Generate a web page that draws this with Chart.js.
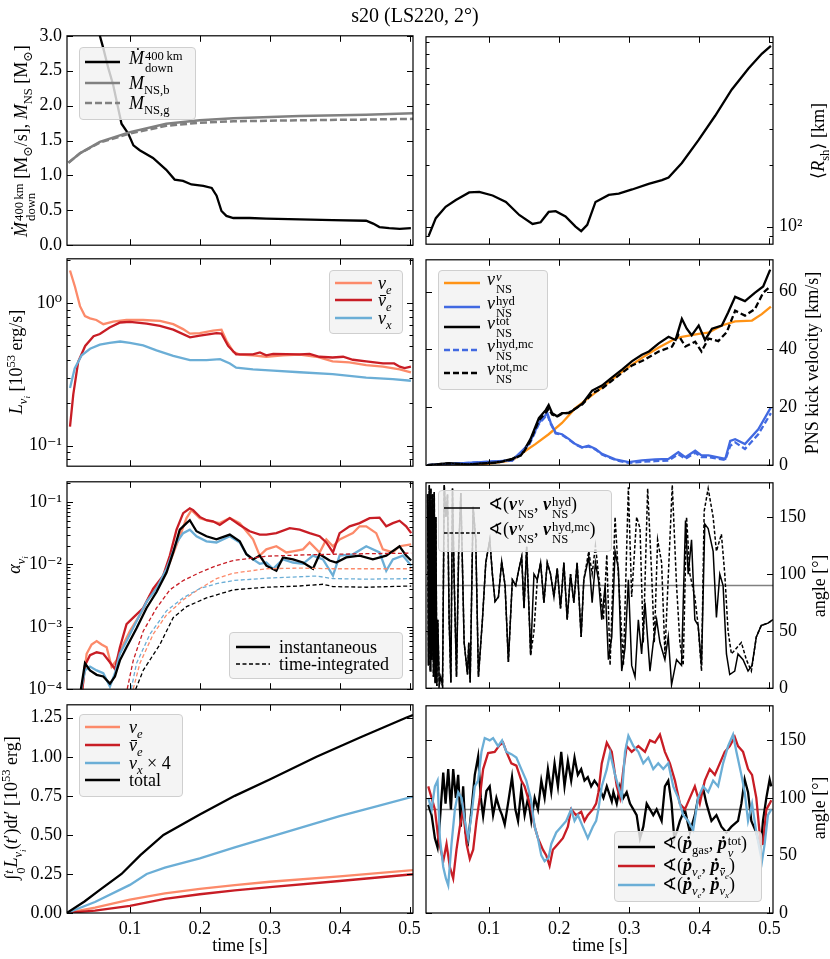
<!DOCTYPE html>
<html>
<head>
<meta charset="utf-8">
<title>s20 (LS220, 2°)</title>
<script src="https://cdn.jsdelivr.net/npm/chart.js@4.4.1/dist/chart.umd.min.js"></script>
<style>
  body { margin: 0; width: 830px; height: 959px; position: relative; overflow: hidden; background: #fff;
         font-family: "Liberation Serif", "DejaVu Serif", serif; color: #000; }
  canvas { position: absolute; }
  .lbl { position: absolute; white-space: nowrap; font-size: 18px; line-height: 1; }
  .rot { transform: translate(-50%, -50%) rotate(-90deg); }
  .ctr { transform: translate(-50%, -50%); }
  .leg { position: absolute; background: rgba(242,242,242,0.82); border: 1px solid #cfcfcf; border-radius: 4px; box-sizing: border-box; }
  .li { position: absolute; white-space: nowrap; font-size: 18px; line-height: 1; transform: translateY(-50%); }
  sub, sup { font-size: 0.7em; line-height: 0; }
  .ss { display: inline-block; vertical-align: -0.6em; font-size: 0.7em; line-height: 0.95; margin-left: 1px; }
  .ss > span { display: block; }
  .bar { position: relative; }
  .bar::after { content: ''; position: absolute; left: 0.12em; right: -0.02em; top: 0.26em; border-top: 1px solid currentColor; }
</style>
</head>
<body>
<script>
// shared x axis
const xRange = [0.01, 0.505];
const xTicks = [0.1, 0.2, 0.3, 0.4, 0.5];

// row 1 left: downflow rate and PNS mass
const mdotT = [0.045,0.057,0.062,0.069,0.076,0.088,0.0976,0.105,0.114,0.133,0.152,0.164,0.176,0.188,0.205,0.217,0.224,0.231,0.238,0.248,0.271,0.295,0.343,0.39,0.438,0.448,0.457,0.471,0.486,0.502];
const mdot  = [3.45,3.0,2.82,2.54,2.30,1.74,1.60,1.43,1.36,1.25,1.08,0.94,0.92,0.87,0.85,0.82,0.71,0.49,0.42,0.39,0.39,0.38,0.37,0.36,0.35,0.31,0.26,0.245,0.235,0.245];
const mnsT  = [0.012,0.029,0.057,0.1,0.152,0.2,0.248,0.343,0.438,0.505];
const mnsB  = [1.18,1.32,1.48,1.62,1.74,1.79,1.82,1.85,1.87,1.89];
const mnsG  = [1.18,1.32,1.47,1.60,1.71,1.755,1.775,1.79,1.80,1.81];
const massTicks = [0, 0.5, 1.0, 1.5, 2.0, 2.5, 3.0];

// row 1 right: mean shock radius
const rshT = [0.0138,0.024,0.038,0.0526,0.0716,0.086,0.105,0.124,0.143,0.162,0.1735,0.185,0.195,0.209,0.2233,0.2314,0.240,0.2518,0.2707,0.285,0.304,0.3276,0.3466,0.356,0.375,0.3987,0.4225,0.446,0.470,0.489,0.502];
const rsh  = [90,110,125,135,147,148,142,132,114,103,105,118,119,112,100,95,102,132,143,145,152,162,169,174,205,265,349,468,594,702,768];
const rshTicks = [90,100,200,300,400,500,600,700,800];

// row 2 left: luminosities
const lumNeT = [0.0143,0.0214,0.0286,0.0357,0.0429,0.052,0.062,0.076,0.095,0.119,0.143,0.162,0.176,0.186,0.2,0.219,0.231,0.238,0.248,0.257,0.276,0.295,0.319,0.343,0.367,0.39,0.414,0.438,0.462,0.486,0.502];
const lumNe  = [1.69,1.30,0.95,0.81,0.78,0.76,0.71,0.74,0.76,0.76,0.75,0.71,0.656,0.61,0.615,0.64,0.65,0.546,0.454,0.435,0.43,0.42,0.43,0.435,0.42,0.39,0.383,0.367,0.358,0.343,0.326];
const lumNbT = [0.0143,0.019,0.026,0.036,0.048,0.057,0.071,0.086,0.1,0.124,0.143,0.162,0.186,0.2,0.224,0.231,0.2405,0.252,0.276,0.286,0.295,0.305,0.343,0.357,0.371,0.39,0.405,0.419,0.438,0.462,0.478,0.486,0.493,0.502];
const lumNb  = [0.136,0.229,0.387,0.50,0.585,0.606,0.674,0.73,0.737,0.717,0.69,0.65,0.575,0.59,0.615,0.61,0.50,0.437,0.437,0.45,0.43,0.44,0.437,0.44,0.42,0.415,0.42,0.40,0.39,0.377,0.377,0.358,0.35,0.358];
const lumNxT = [0.0143,0.021,0.031,0.043,0.057,0.071,0.086,0.1,0.119,0.138,0.162,0.186,0.2095,0.229,0.243,0.252,0.276,0.305,0.343,0.39,0.438,0.476,0.502];
const lumNx  = [0.254,0.348,0.43,0.478,0.51,0.526,0.537,0.526,0.505,0.466,0.426,0.398,0.398,0.404,0.377,0.352,0.343,0.336,0.327,0.317,0.30,0.293,0.285];
const lumTicks = [0.08,0.09,0.1,0.2,0.3,0.4,0.5,0.6,0.7,0.8,0.9,1,2];

// row 2 right: kick velocities
const vNuT = [0.012,0.0905,0.133,0.152,0.166,0.185,0.204,0.223,0.247,0.271,0.294,0.318,0.342,0.366,0.375,0.399,0.413,0.432,0.451,0.475,0.489,0.502];
const vNu  = [0,0.2,1.7,5,7.3,10.7,14.6,19.7,24.2,28.7,33.1,37.1,40.7,43.8,44.4,45.4,45.8,48.3,49.7,50,52.2,54.8];
const vHydT = [0.012,0.133,0.157,0.171,0.183,0.188,0.195,0.204,0.214,0.223,0.233,0.242,0.252,0.261,0.28,0.299,0.318,0.337,0.356,0.37,0.38,0.394,0.403,0.413,0.437,0.444,0.451,0.465,0.484,0.502];
const vHyd   = [0,1.7,7.3,14.6,18,14.6,11.2,10.7,9,7.3,6.2,6.7,5.6,3.9,2,1.1,1.7,2,2.2,4.5,2.8,5,3.4,3.4,2.2,8.4,9,7.3,12.4,20];
const vHydMc = [0,1.6,7.0,14.2,17.5,14.2,11,10.5,8.8,7.2,6.0,6.5,5.4,3.7,1.8,0.8,1.2,1.4,1.6,3.8,2.2,4.3,2.8,2.8,1.8,6.7,7.9,5.6,10.7,18];
const vTotT = [0.012,0.043,0.07,0.114,0.133,0.147,0.159,0.171,0.181,0.185,0.19,0.197,0.204,0.214,0.233,0.247,0.261,0.275,0.29,0.304,0.318,0.328,0.342,0.356,0.366,0.375,0.382,0.389,0.399,0.408,0.418,0.432,0.441,0.451,0.465,0.479,0.491,0.501];
const vTot  = [0,0.7,0.3,1.1,2.2,3.9,9,16.3,19.1,20.8,18,16.9,18,18,21.3,25.8,27.5,30.3,33.1,36,38.2,39.3,42.1,44.4,43.3,50.6,47.2,44.9,48.3,43.3,47.2,48.3,52.8,58.2,56.7,59.6,61.8,67.6];
const vTotMcT = [0.012,0.043,0.07,0.114,0.133,0.147,0.159,0.171,0.181,0.185,0.19,0.197,0.204,0.214,0.233,0.247,0.261,0.275,0.29,0.304,0.318,0.342,0.361,0.37,0.38,0.394,0.403,0.413,0.427,0.439,0.451,0.465,0.479,0.491,0.501];
const vTotMc  = [0,0.6,0.3,1.0,2.0,3.6,8.5,15.5,18.2,19.5,17.5,16.8,17.8,18.2,21,24.8,26.5,29.2,32,34.5,36,39.3,41,45,41,42.7,39.3,43.8,42.9,46,53.4,51.7,53.9,59.6,61.8];
const kickTicks = [0, 20, 40, 60];

// row 3 left: anisotropy parameters (instantaneous and time-integrated)
const aNeT = [0.031,0.0381,0.0452,0.0524,0.0595,0.0667,0.0738,0.081,0.0905,0.1,0.1143,0.1286,0.1429,0.1571,0.1714,0.181,0.1881,0.2,0.2143,0.2286,0.2429,0.2571,0.2762,0.2857,0.2952,0.3095,0.3238,0.3333,0.3476,0.3571,0.3714,0.381,0.3905,0.4,0.4095,0.419,0.4286,0.4381,0.4524,0.4619,0.4762,0.4857,0.5024];
const aNe  = [8e-5,3.7e-4,5.2e-4,5.9e-4,5.2e-4,4.7e-4,2.3e-4,2.9e-4,5.2e-4,8.5e-4,1.55e-3,3.2e-3,5.2e-3,0.0107,0.0282,0.055,0.074,0.055,0.049,0.0457,0.055,0.0457,0.0251,0.0138,0.0174,0.0195,0.0155,0.0162,0.0174,0.0224,0.0155,0.0251,0.0195,0.0251,0.0282,0.0316,0.0407,0.0407,0.0316,0.0174,0.0155,0.0195,0.0209];
const aNbT = [0.031,0.0357,0.0429,0.0524,0.0619,0.0714,0.0786,0.0857,0.0952,0.1048,0.119,0.1333,0.1476,0.1571,0.1667,0.1762,0.1857,0.1905,0.2,0.2095,0.219,0.2286,0.2429,0.2571,0.2714,0.2857,0.2952,0.3095,0.3286,0.3429,0.3571,0.3714,0.381,0.3905,0.4,0.4143,0.4286,0.4429,0.4571,0.4667,0.4762,0.4857,0.4952,0.5024];
const aNb  = [8e-5,2.4e-4,3.5e-4,3.9e-4,3.7e-4,2.7e-4,2.1e-4,4.7e-4,1.1e-3,1.4e-3,2.0e-3,4.1e-3,6.6e-3,0.0138,0.0359,0.066,0.079,0.074,0.0575,0.051,0.049,0.0427,0.055,0.0427,0.0339,0.030,0.030,0.0316,0.038,0.0359,0.0316,0.0282,0.0224,0.0155,0.0316,0.0407,0.0457,0.055,0.056,0.0407,0.0457,0.050,0.0407,0.0316];
const aNxT = [0.0286,0.0357,0.0429,0.0524,0.0619,0.0714,0.0786,0.0857,0.0952,0.1095,0.1238,0.1381,0.1524,0.1667,0.1762,0.1857,0.1952,0.2095,0.2238,0.2429,0.2571,0.2667,0.2762,0.2857,0.2952,0.3048,0.319,0.3333,0.3476,0.3619,0.3762,0.3905,0.4,0.419,0.4381,0.4571,0.4667,0.4762,0.4905,0.5024];
const aNx  = [8e-5,2.0e-4,2.3e-4,2.0e-4,1.8e-4,1.1e-4,1.8e-4,3.7e-4,5.9e-4,1.23e-3,2.5e-3,4.1e-3,8.5e-3,0.0224,0.0316,0.0359,0.0282,0.0234,0.0224,0.0282,0.0224,0.0145,0.012,0.0102,0.0107,0.0085,0.012,0.0107,0.0102,0.0138,0.012,0.0066,0.0138,0.0145,0.0195,0.0155,0.0079,0.012,0.0138,0.0095];
const aTotT = [0.0286,0.0357,0.0429,0.0524,0.0619,0.0714,0.0786,0.0857,0.0952,0.1095,0.1238,0.1381,0.1524,0.1619,0.1714,0.181,0.1857,0.1952,0.2095,0.2238,0.2429,0.2571,0.2667,0.2762,0.2857,0.2952,0.3095,0.319,0.3333,0.3476,0.3619,0.3714,0.3857,0.3952,0.4095,0.4286,0.4476,0.4667,0.4857,0.4952,0.5024];
const aTot  = [8e-5,2.6e-4,2.0e-4,1.7e-4,1.6e-4,1.23e-4,1.6e-4,2.9e-4,4.7e-4,9.5e-4,2.0e-3,3.6e-3,7.4e-3,0.0155,0.0359,0.0457,0.051,0.0339,0.0282,0.0251,0.030,0.0234,0.0145,0.012,0.0138,0.0095,0.0079,0.0129,0.012,0.0107,0.0085,0.0145,0.0115,0.0107,0.0129,0.0138,0.012,0.0138,0.0195,0.0138,0.0115];
const aiNbT = [0.0943,0.1048,0.119,0.1381,0.1571,0.1762,0.2,0.2238,0.2476,0.2952,0.3429,0.3905,0.4381,0.5024];
const aiNb  = [8e-5,2.9e-4,8.5e-4,2.0e-3,3.9e-3,5.5e-3,7.4e-3,9.5e-3,0.0115,0.0135,0.0141,0.0145,0.0148,0.0151];
const aiNeT = [0.1024,0.1143,0.1333,0.1524,0.1762,0.2,0.2238,0.2476,0.2952,0.3429,0.3905,0.4381,0.5024];
const aiNe  = [8e-5,2.6e-4,7.6e-4,1.55e-3,2.7e-3,4.1e-3,5.9e-3,7.2e-3,8.5e-3,8.7e-3,8.5e-3,8.5e-3,8.5e-3];
const aiNxT = [0.1,0.1095,0.1286,0.1524,0.1762,0.2,0.2238,0.2476,0.2952,0.3667,0.3905,0.4381,0.5024];
const aiNx  = [8e-5,2.6e-4,7.6e-4,1.8e-3,2.9e-3,4.1e-3,4.9e-3,5.5e-3,6.0e-3,6.5e-3,5.9e-3,5.8e-3,5.9e-3];
const aiTotT = [0.1048,0.119,0.1429,0.1619,0.181,0.2095,0.2476,0.2952,0.3429,0.3762,0.3905,0.4381,0.5024];
const aiTot  = [8e-5,2.0e-4,5.2e-4,1.4e-3,2.1e-3,2.9e-3,3.9e-3,4.3e-3,4.5e-3,4.8e-3,4.4e-3,4.3e-3,4.5e-3];
const alphaTicks = [1e-4,2e-4,3e-4,4e-4,5e-4,6e-4,7e-4,8e-4,9e-4,1e-3,2e-3,3e-3,4e-3,5e-3,6e-3,7e-3,8e-3,9e-3,0.01,0.02,0.03,0.04,0.05,0.06,0.07,0.08,0.09,0.1,0.2];

// row 3 right: angle between neutrino and hydro kick
const angHydT = [0.0123,0.0135,0.0147,0.016,0.017,0.0182,0.0194,0.0206,0.0218,0.023,0.0241,0.0255,0.0268,0.0289,0.031,0.0336,0.036,0.0384,0.0407,0.043,0.0455,0.0478,0.05,0.0535,0.0566,0.0597,0.0644,0.0692,0.071,0.073,0.0772,0.081,0.0848,0.0905,0.0953,0.101,0.1047,0.1085,0.1133,0.118,0.1228,0.1275,0.1332,0.138,0.1427,0.1465,0.1498,0.1536,0.1593,0.164,0.1688,0.1735,0.1782,0.183,0.1877,0.1925,0.1972,0.2019,0.2067,0.2114,0.2162,0.2209,0.2256,0.2313,0.2351,0.2422,0.247,0.2517,0.256,0.2607,0.2655,0.2702,0.275,0.2797,0.2844,0.2892,0.2939,0.2987,0.3034,0.3082,0.3129,0.3176,0.3224,0.3295,0.3342,0.339,0.3437,0.3508,0.3556,0.3603,0.3674,0.3745,0.3802,0.384,0.3888,0.3935,0.3982,0.403,0.4077,0.4125,0.4196,0.4243,0.4291,0.4338,0.4386,0.4433,0.4504,0.4551,0.4623,0.4694,0.4751,0.4812,0.4883,0.4978,0.5049];
const angHyd  = [170,20,178,15,175,25,170,10,172,5,150,2,60,3,10,2,178,150,170,60,5,175,100,10,120,171,40,12,40,5,159,130,10,60,110,130,100,76,80,111,90,23,95,90,105,115,70,124,29,100,95,110,75,110,100,80,105,70,110,60,100,75,110,45,95,115,75,110,95,60,90,25,45,120,105,15,35,95,20,10,60,30,75,15,40,60,40,25,45,3,25,20,147,100,130,60,55,20,144,140,120,62,100,90,30,12,15,30,25,15,20,45,55,57,60];
const angMcT = [0.0123,0.0135,0.0147,0.016,0.017,0.0182,0.0194,0.0206,0.0218,0.023,0.0241,0.0255,0.0268,0.0289,0.031,0.0336,0.036,0.0384,0.0407,0.043,0.0455,0.0478,0.05,0.0535,0.0566,0.0597,0.0644,0.0692,0.071,0.073,0.0772,0.081,0.0848,0.0905,0.0953,0.101,0.1047,0.1085,0.1133,0.118,0.1228,0.1275,0.1332,0.138,0.1427,0.1465,0.1498,0.1536,0.1593,0.164,0.1688,0.1735,0.1782,0.183,0.1877,0.1925,0.1972,0.2019,0.2067,0.2114,0.2162,0.2209,0.2256,0.2313,0.2351,0.2422,0.247,0.2517,0.256,0.2631,0.2679,0.2726,0.2797,0.2844,0.2916,0.2987,0.3034,0.3105,0.3153,0.32,0.3262,0.3319,0.3357,0.3404,0.3461,0.3508,0.3613,0.3674,0.3722,0.3769,0.3817,0.3864,0.3935,0.3982,0.403,0.4068,0.4125,0.4196,0.4243,0.4314,0.4362,0.4409,0.4457,0.4528,0.4599,0.467,0.4741,0.4812,0.4883,0.4978,0.5049];
const angMc  = [170,20,178,15,175,25,170,10,172,5,150,2,60,3,10,2,178,150,170,60,5,175,100,10,120,171,40,12,40,5,159,130,10,60,110,130,100,76,80,111,90,23,95,90,105,115,70,124,29,50,95,110,75,110,100,80,105,70,110,60,100,75,110,45,95,120,100,125,100,60,117,20,150,100,20,176,80,150,140,40,175,100,40,130,110,30,178,90,40,20,150,100,80,55,15,155,175,150,120,135,100,50,30,35,40,25,15,45,55,57,60];
const refT = [0.01, 0.505];
const refAngle = [90, 90];
const angleTicks = [0, 50, 100, 150];

// row 4 left: emitted energies
const eNeT = [0.0095,0.05,0.1,0.15,0.2,0.25,0.3,0.4,0.505];
const eNe  = [0,0.035,0.085,0.125,0.155,0.178,0.2,0.235,0.275];
const eNbT = [0.0095,0.05,0.1,0.15,0.2,0.25,0.3,0.4,0.505];
const eNb  = [0,0.015,0.045,0.09,0.12,0.145,0.165,0.205,0.248];
const eNxT = [0.0095,0.05,0.1,0.124,0.15,0.2,0.25,0.31,0.4,0.45,0.505];
const eNx4 = [0,0.07,0.18,0.25,0.29,0.35,0.42,0.5,0.62,0.68,0.745];
const eTotT = [0.0095,0.035,0.057,0.088,0.115,0.148,0.2,0.25,0.3,0.367,0.43,0.495,0.505];
const eTot  = [0,0.074,0.148,0.25,0.37,0.5,0.63,0.75,0.855,1.0,1.125,1.25,1.268];
const energyTicks = [0, 0.25, 0.5, 0.75, 1.0, 1.25];

// row 4 right: angles between momentum rates
const pGasT = [0.0132,0.018,0.0227,0.0265,0.0298,0.0346,0.0379,0.0417,0.0455,0.0488,0.0526,0.0559,0.0597,0.063,0.0663,0.0701,0.0749,0.0796,0.0844,0.0882,0.0915,0.0962,0.1009,0.1057,0.1104,0.1152,0.1185,0.1223,0.127,0.1327,0.1375,0.1413,0.146,0.1507,0.1555,0.1602,0.165,0.1697,0.1745,0.1792,0.1839,0.1887,0.1934,0.1982,0.2029,0.2076,0.2124,0.2171,0.2219,0.2266,0.2314,0.2361,0.2408,0.2456,0.2503,
               0.256,0.2631,0.2679,0.275,0.2773,0.2821,0.2868,0.2916,0.2963,0.301,0.3058,0.3105,0.3153,0.32,0.3248,0.3295,0.3342,0.339,0.3461,0.3508,0.3556,0.3603,0.3641,0.3674,0.3722,0.3793,0.3864,0.3935,0.3982,0.4054,0.4101,0.4172,0.4243,0.4314,0.4386,0.4457,0.4551,0.4599,0.4646,0.4694,0.4741,0.4812,0.4874,0.4907,0.4955,0.5002,0.5026];
const pGas  = [94,85,65,57,80,122,95,125,90,125,100,120,75,110,70,62,90,120,136,100,84,106,110,85,100,90,85,77,95,118,90,80,108,85,100,80,100,90,115,100,125,105,130,110,140,110,132,115,135,120,125,115,118,110,115,
               110,100,110,97,105,95,110,100,105,95,90,85,65,75,95,90,85,90,80,110,115,95,65,70,80,90,70,85,100,108,95,80,85,75,70,75,80,95,116,105,80,70,55,80,100,116,110];
const pNbT = [0.0132,0.018,0.0227,0.0275,0.0346,0.0393,0.044,0.0488,0.0535,0.0583,0.063,0.0678,0.0725,0.0773,0.082,0.0867,0.0915,0.0986,0.108,0.1152,0.1199,0.1247,0.1318,0.1389,0.146,0.1507,0.1555,0.1602,0.165,0.1697,0.1768,0.1816,0.1863,0.191,0.1982,0.2053,0.2124,0.2171,0.2242,0.2314,0.2361,0.2408,0.248,0.2527,
              0.256,0.2607,0.2679,0.275,0.2821,0.2868,0.2916,0.2963,0.3034,0.3129,0.3224,0.3295,0.3366,0.3437,0.3508,0.3579,0.3651,0.3722,0.3793,0.3864,0.3935,0.4006,0.4077,0.4148,0.422,0.4291,0.4362,0.4433,0.4504,0.4551,0.4623,0.4694,0.4751,0.4812,0.4874,0.4907,0.4955,0.5002,0.5026];
const pNb  = [110,100,90,65,45,60,40,30,55,75,90,60,47,55,80,100,125,139,140,146,148,140,130,128,115,110,100,90,75,65,55,50,41,55,60,65,75,90,85,88,80,85,90,95,
              105,130,148,140,110,100,125,145,140,145,140,150,148,155,140,130,115,95,90,100,110,95,115,125,120,130,140,145,153,145,140,125,120,100,60,60,90,95,98];
const pNxT = [0.0132,0.018,0.0227,0.0265,0.0298,0.0346,0.0384,0.0417,0.0464,0.0512,0.0559,0.0607,0.0654,0.0701,0.0749,0.0796,0.0844,0.0891,0.0938,0.1009,0.1057,0.1128,0.1185,0.1247,0.1318,0.1389,0.146,0.1531,0.1593,0.165,0.1697,0.1745,0.1792,0.1849,0.1887,0.1958,0.2029,0.21,0.2171,0.2219,0.2266,0.2337,0.2408,0.248,0.2527,
              0.256,0.2607,0.2679,0.2726,0.2797,0.2844,0.2892,0.2939,0.2987,0.3058,0.3129,0.32,0.3271,0.3342,0.3413,0.3485,0.3556,0.3627,0.3698,0.3769,0.384,0.3911,0.3982,0.4054,0.4125,0.4196,0.4267,0.4338,0.4409,0.448,0.4528,0.4599,0.4646,0.4694,0.4751,0.4812,0.486,0.4893,0.4931,0.4978,0.5026];
const pNx  = [100,90,110,115,65,40,30,24,60,90,105,100,80,65,85,110,115,140,152,150,152,145,150,140,138,135,125,115,100,75,65,50,45,48,60,70,75,80,90,80,85,75,65,75,80,
              90,110,125,139,120,110,100,140,154,145,140,130,135,125,130,125,130,110,100,85,80,72,100,110,105,115,110,130,145,155,140,120,105,80,95,70,55,45,60,85,90];

// colours
const C_NE = '#fc8a6a', C_NB = '#c81d25', C_NX = '#6baed6', C_ORANGE = '#ff9316', C_HYD = '#4169e1', C_GRAY = '#808080';

// panel frames in page pixels
const COLS = { L: [67, 413], R: [426, 773] };
const ROWS = [[34, 247], [257, 468], [480, 691], [703, 913]];

Chart.defaults.font.family = '"Liberation Serif", "DejaVu Serif", serif';
Chart.defaults.font.size = 18;
Chart.defaults.color = '#000';

function isPow10(v) {
    const e = Math.log10(v);
    return Math.abs(e - Math.round(e)) < 1e-6;
}
const SUPS = { '-': '⁻', '0': '⁰', '1': '¹', '2': '²', '3': '³', '4': '⁴' };
function logLabel(v) {
    if (!isPow10(v)) return '';
    return '10' + String(Math.round(Math.log10(v))).split('').map(c => SUPS[c]).join('');
}

// matplotlib-like frame with inward ticks on all four sides
const mplFrame = {
    id: 'mplFrame',
    afterDatasetsDraw(chart) {
        const { ctx, chartArea: a, scales: { x, y } } = chart;
        const cfg = chart.canvas._ycfg;
        ctx.save();
        ctx.strokeStyle = '#000';
        ctx.lineWidth = 1;
        ctx.beginPath();
        xTicks.forEach(v => {
            const p = Math.round(x.getPixelForValue(v)) + 0.5;
            ctx.moveTo(p, a.bottom); ctx.lineTo(p, a.bottom - 6);
            ctx.moveTo(p, a.top); ctx.lineTo(p, a.top + 6);
        });
        cfg.ticks.forEach(v => {
            const len = (cfg.type === 'logarithmic' && !isPow10(v)) ? 3.5 : 6;
            const p = Math.round(y.getPixelForValue(v)) + 0.5;
            ctx.moveTo(a.left, p); ctx.lineTo(a.left + len, p);
            ctx.moveTo(a.right, p); ctx.lineTo(a.right - len, p);
        });
        ctx.stroke();
        ctx.lineWidth = 1.2;
        ctx.strokeRect(a.left, a.top, a.right - a.left, a.bottom - a.top);
        ctx.restore();
    }
};

function series(t, v, color, extra) {
    return Object.assign({
        data: t.map((x, i) => ({ x: x, y: v[i] })),
        borderColor: color, borderWidth: 2.3, pointRadius: 0, fill: false, tension: 0
    }, extra || {});
}

function panel(col, row, datasets, ycfg) {
    const [x0, x1] = COLS[col];
    const [y0, y1] = ROWS[row];
    const isLeft = col === 'L', isBottom = row === 3;
    const padL = isLeft ? 67 : 14, padR = isLeft ? 14 : 57;
    const padT = 14, padB = isBottom ? 46 : 14;
    const w = x1 - x0 + padL + padR, h = y1 - y0 + padT + padB;

    const cv = document.createElement('canvas');
    cv.width = w; cv.height = h;
    cv.style.left = (x0 - padL) + 'px';
    cv.style.top = (y0 - padT) + 'px';
    cv.style.width = w + 'px';
    cv.style.height = h + 'px';
    cv._ycfg = ycfg;
    document.body.appendChild(cv);

    return new Chart(cv, {
        type: 'line',
        data: { datasets: datasets },
        options: {
            responsive: false,
            animation: false,
            events: [],
            layout: { padding: { left: isLeft ? 0 : padL, right: isLeft ? padR : 0, top: padT, bottom: isBottom ? 0 : padB } },
            plugins: { legend: { display: false }, tooltip: { enabled: false } },
            scales: {
                x: {
                    type: 'linear', min: xRange[0], max: xRange[1], display: isBottom,
                    afterBuildTicks: s => { s.ticks = xTicks.map(v => ({ value: v })); },
                    afterFit: s => { if (isBottom) s.height = padB; },
                    grid: { display: false, drawTicks: false }, border: { display: false },
                    ticks: { padding: 5, autoSkip: false, maxRotation: 0, callback: v => v.toFixed(1) }
                },
                y: {
                    type: ycfg.type, position: isLeft ? 'left' : 'right', min: ycfg.min, max: ycfg.max,
                    afterBuildTicks: s => { s.ticks = ycfg.ticks.map(v => ({ value: v })); },
                    afterFit: s => { s.width = isLeft ? padL : padR; },
                    grid: { display: false, drawTicks: false }, border: { display: false },
                    ticks: { padding: isLeft ? 5 : 6, autoSkip: false, callback: ycfg.fmt }
                }
            }
        },
        plugins: [mplFrame]
    });
}

// ---- row 1 ----
panel('L', 0, [
    series(mdotT, mdot, '#000', { order: -1 }),
    series(mnsT, mnsB, C_GRAY, { order: -2, borderWidth: 2.5 }),
    series(mnsT, mnsG, C_GRAY, { order: -3, borderWidth: 2.5, borderDash: [7, 3] })
], { type: 'linear', min: 0, max: 3.0, ticks: massTicks, fmt: v => v.toFixed(1) });

panel('R', 0, [
    series(rshT, rsh, '#000')
], { type: 'logarithmic', min: 82, max: 850, ticks: rshTicks, fmt: logLabel });

// ---- row 2 ----
panel('L', 1, [
    series(lumNeT, lumNe, C_NE, { order: -1 }),
    series(lumNbT, lumNb, C_NB, { order: -2 }),
    series(lumNxT, lumNx, C_NX, { order: -3 })
], { type: 'logarithmic', min: 0.0718, max: 2.04, ticks: lumTicks, fmt: logLabel });

panel('R', 1, [
    series(vNuT, vNu, C_ORANGE, { order: -1 }),
    series(vHydT, vHyd, C_HYD, { order: -2 }),
    series(vTotT, vTot, '#000', { order: -3 }),
    series(vHydT, vHydMc, C_HYD, { order: -4, borderDash: [6, 3] }),
    series(vTotMcT, vTotMc, '#000', { order: -5, borderDash: [6, 3] })
], { type: 'linear', min: 0, max: 71, ticks: kickTicks, fmt: v => String(v) });

// ---- row 3 ----
const thin = { borderWidth: 1.3, borderDash: [4, 2.5] };
panel('L', 2, [
    series(aNeT, aNe, C_NE, { order: -1 }),
    series(aNbT, aNb, C_NB, { order: -2 }),
    series(aNxT, aNx, C_NX, { order: -3 }),
    series(aTotT, aTot, '#000', { order: -4 }),
    series(aiNeT, aiNe, C_NE, Object.assign({ order: -5 }, thin)),
    series(aiNbT, aiNb, C_NB, Object.assign({ order: -6 }, thin)),
    series(aiNxT, aiNx, C_NX, Object.assign({ order: -7 }, thin)),
    series(aiTotT, aiTot, '#000', Object.assign({ order: -8 }, thin))
], { type: 'logarithmic', min: 1e-4, max: 0.21, ticks: alphaTicks, fmt: logLabel });

panel('R', 2, [
    series(refT, refAngle, C_GRAY, { order: 5, borderWidth: 1.5 }),
    series(angHydT, angHyd, '#000', { order: -1, borderWidth: 1.5 }),
    series(angMcT, angMc, '#000', { order: -2, borderWidth: 1.5, borderDash: [3.5, 2] })
], { type: 'linear', min: 0, max: 180, ticks: angleTicks, fmt: v => String(v) });

// ---- row 4 ----
panel('L', 3, [
    series(eNeT, eNe, C_NE, { order: -1 }),
    series(eNbT, eNb, C_NB, { order: -2 }),
    series(eNxT, eNx4, C_NX, { order: -3 }),
    series(eTotT, eTot, '#000', { order: -4 })
], { type: 'linear', min: 0, max: 1.333, ticks: energyTicks, fmt: v => v.toFixed(2) });

panel('R', 3, [
    series(refT, refAngle, C_GRAY, { order: 5, borderWidth: 1.5 }),
    series(pGasT, pGas, '#000', { order: -1 }),
    series(pNbT, pNb, C_NB, { order: -2 }),
    series(pNxT, pNx, C_NX, { order: -3 })
], { type: 'linear', min: 0, max: 180, ticks: angleTicks, fmt: v => String(v) });

// ---- text: title, axis labels, legends ----
function ss(sup, sub) { return `<span class="ss"><span>${sup}</span><span>${sub}</span></span>`; }
function text(html, x, y, cls, size) {
    const d = document.createElement('div');
    d.className = 'lbl ' + cls;
    d.style.left = x + 'px';
    d.style.top = y + 'px';
    if (size) d.style.fontSize = size + 'px';
    d.innerHTML = html;
    document.body.appendChild(d);
}
function legend(box, lineX, lineW, textX, items) {
    const b = document.createElement('div');
    b.className = 'leg';
    b.style.left = box[0] + 'px'; b.style.top = box[1] + 'px';
    b.style.width = box[2] + 'px'; b.style.height = box[3] + 'px';
    document.body.appendChild(b);
    items.forEach(it => {
        const svg = `<svg style="position:absolute;left:${lineX}px;top:${it.y - 5}px" width="${lineW}" height="10">` +
            `<line x1="0" y1="5" x2="${lineW}" y2="5" stroke="${it.c}" stroke-width="${it.w || 2.3}" stroke-dasharray="${it.dash || ''}"/></svg>`;
        document.body.insertAdjacentHTML('beforeend', svg);
        const d = document.createElement('div');
        d.className = 'li';
        d.style.left = textX + 'px';
        d.style.top = it.y + 'px';
        d.innerHTML = it.html;
        document.body.appendChild(d);
    });
}

const NUE = '<i>ν<sub>e</sub></i>', NUB = '<i><span class="bar">ν</span><sub>e</sub></i>', NUX = '<i>ν<sub>x</sub></i>';
const MSUN = 'M<sub>⊙</sub>';

text('s20 (LS220, 2°)', 415, 15, 'ctr', 20);

text(`<i>Ṁ</i>${ss('400&thinsp;km', 'down')} [${MSUN}/s], <i>M</i><sub>NS</sub> [${MSUN}]`, 25, 141, 'rot');
text(`<i>L</i><sub><i>ν<sub>i</sub></i></sub> [10<sup>53</sup> erg/s]`, 17, 362, 'rot');
text(`<i>α</i><sub><i>ν<sub>i</sub></i></sub>`, 15, 565, 'rot');
text(`∫${ss('<i>t</i>', '0')}<i>L</i><sub><i>ν<sub>i</sub></i></sub>(<i>t</i>′)d<i>t</i>′ [10<sup>53</sup> erg]`, 15, 808, 'rot');

text(`⟨<i>R</i><sub>sh</sub>⟩ [km]`, 818, 141, 'rot');
text('PNS kick velocity [km/s]', 812, 363, 'rot');
text('angle [°]', 819, 586, 'rot');
text('angle [°]', 819, 808, 'rot');

text('time [s]', 240, 945, 'ctr');
text('time [s]', 600, 945, 'ctr');

legend([79, 47, 117, 73], 85, 35, 129, [
    { y: 62, c: '#000', html: `<i>Ṁ</i>${ss('400&thinsp;km', 'down')}` },
    { y: 83, c: C_GRAY, w: 2.5, html: '<i>M</i><sub>NS,b</sub>' },
    { y: 103, c: C_GRAY, w: 2.5, dash: '7,3', html: '<i>M</i><sub>NS,g</sub>' }
]);
legend([329, 270, 74, 64], 335, 37, 378, [
    { y: 283, c: C_NE, html: NUE },
    { y: 300, c: C_NB, html: NUB },
    { y: 318, c: C_NX, html: NUX }
]);
legend([438, 270, 110, 120], 444, 36, 487, [
    { y: 283, c: C_ORANGE, html: `<i>v</i>${ss('<i>ν</i>', 'NS')}` },
    { y: 307, c: C_HYD, html: `<i>v</i>${ss('hyd', 'NS')}` },
    { y: 327, c: '#000', html: `<i>v</i>${ss('tot', 'NS')}` },
    { y: 350, c: C_HYD, dash: '6,3', html: `<i>v</i>${ss('hyd,mc', 'NS')}` },
    { y: 373, c: '#000', dash: '6,3', html: `<i>v</i>${ss('tot,mc', 'NS')}` }
]);
legend([229, 632, 174, 47], 236, 34, 279, [
    { y: 647, c: '#000', html: 'instantaneous' },
    { y: 664, c: '#000', w: 1.4, dash: '4,2.5', html: 'time-integrated' }
]);
legend([438, 490, 174, 62], 444, 36, 488, [
    { y: 508, c: '#000', w: 1.5, html: `∢(<b><i>v</i></b>${ss('<i>ν</i>', 'NS')}, <b><i>v</i></b>${ss('hyd', 'NS')})` },
    { y: 533, c: '#000', w: 1.5, dash: '3.5,2', html: `∢(<b><i>v</i></b>${ss('<i>ν</i>', 'NS')}, <b><i>v</i></b>${ss('hyd,mc', 'NS')})` }
]);
legend([79, 714, 104, 83], 85, 35, 129, [
    { y: 727, c: C_NE, html: NUE },
    { y: 745, c: C_NB, html: NUB },
    { y: 763, c: C_NX, html: NUX + ' × 4' },
    { y: 780, c: '#000', html: 'total' }
]);
legend([614, 831, 148, 71], 618, 37, 662, [
    { y: 847, c: '#000', html: `∢(<b><i>ṗ</i></b><sub>gas</sub>, <b><i>ṗ</i></b>${ss('tot', '<i>ν</i>')})` },
    { y: 866, c: C_NB, html: `∢(<b><i>ṗ</i></b><sub>${NUE}</sub>, <b><i>ṗ</i></b><sub>${NUB}</sub>)` },
    { y: 885, c: C_NX, html: `∢(<b><i>ṗ</i></b><sub>${NUE}</sub>, <b><i>ṗ</i></b><sub>${NUX}</sub>)` }
]);
</script>
</body>
</html>
